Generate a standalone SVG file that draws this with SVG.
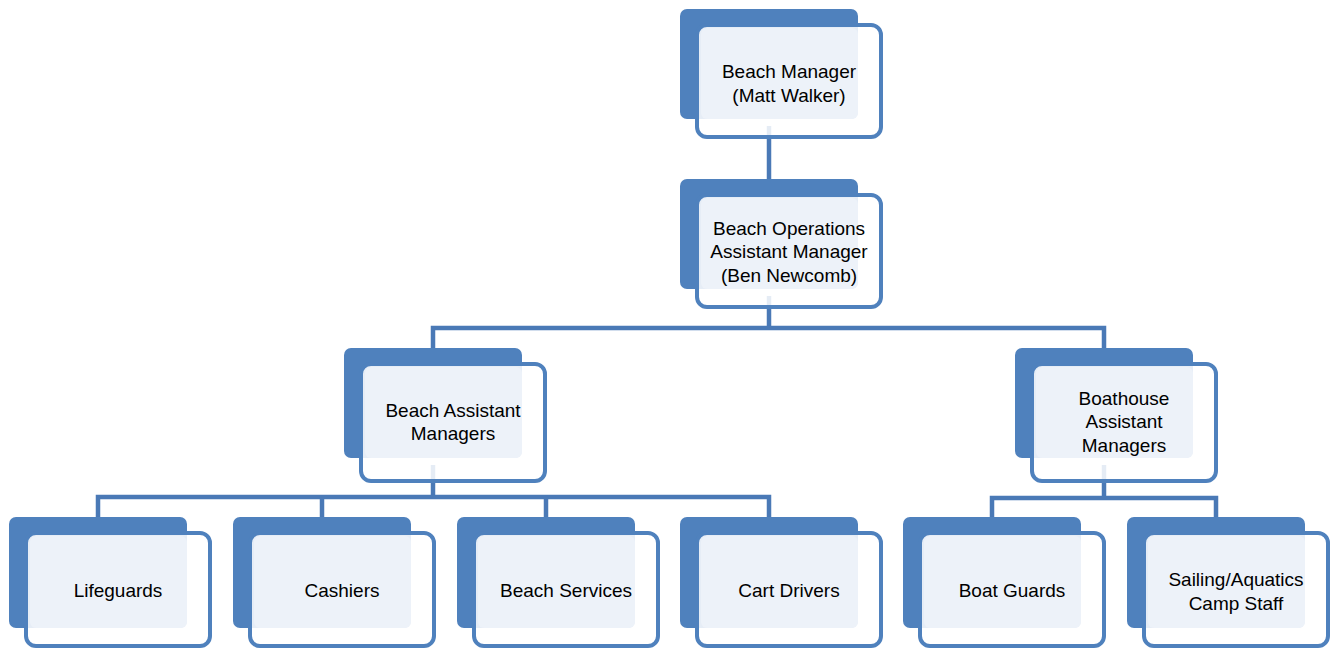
<svg xmlns="http://www.w3.org/2000/svg" width="1330" height="648" viewBox="0 0 1330 648">
<style>
.back{fill:#4F81BD}
.frame{fill:#FFFFFF;fill-opacity:0.86;stroke:#4F81BD;stroke-width:4}
.face{fill:#EDF2F9}
.lbl{font-family:"Liberation Sans",Arial,sans-serif;font-size:19px;fill:#000;text-anchor:middle}
.conn{stroke:#4A79B6;stroke-width:4.5;fill:none;stroke-linejoin:miter}
</style>
<rect width="1330" height="648" fill="#FFFFFF"/>
<g id="connectors">
<path class="conn" d="M769,126 V179"/>
<path class="conn" d="M769,296 V328"/>
<path class="conn" d="M433,348 V328 H1104 V348"/>
<path class="conn" d="M433,465 V497"/>
<path class="conn" d="M98,517 V497 H769 V517"/>
<path class="conn" d="M322,497 V517"/>
<path class="conn" d="M546,497 V517"/>
<path class="conn" d="M1104,465 V498"/>
<path class="conn" d="M992,517 V498 H1216 V517"/>
</g>
<g id="node-beach-manager">
<rect class="back" x="680" y="9" width="178" height="110" rx="7"/>
<rect class="frame" x="697" y="25" width="184" height="112" rx="10"/>
<rect class="face" x="701" y="28" width="157" height="91" rx="6"/>
<text class="lbl" x="789" y="78">Beach Manager</text>
<text class="lbl" x="789" y="102">(Matt Walker)</text>
</g>
<g id="node-beach-operations">
<rect class="back" x="680" y="179" width="178" height="110" rx="7"/>
<rect class="frame" x="697" y="195" width="184" height="112" rx="10"/>
<rect class="face" x="701" y="198" width="157" height="91" rx="6"/>
<text class="lbl" x="789" y="235">Beach Operations</text>
<text class="lbl" x="789" y="258">Assistant Manager</text>
<text class="lbl" x="789" y="282">(Ben Newcomb)</text>
</g>
<g id="node-beach-assistant">
<rect class="back" x="344" y="348" width="178" height="110" rx="7"/>
<rect class="frame" x="361" y="364" width="184" height="117" rx="10"/>
<rect class="face" x="365" y="367" width="157" height="91" rx="6"/>
<text class="lbl" x="453" y="417">Beach Assistant</text>
<text class="lbl" x="453" y="440">Managers</text>
</g>
<g id="node-boathouse-assistant">
<rect class="back" x="1015" y="348" width="178" height="110" rx="7"/>
<rect class="frame" x="1032" y="364" width="184" height="117" rx="10"/>
<rect class="face" x="1036" y="367" width="157" height="91" rx="6"/>
<text class="lbl" x="1124" y="405">Boathouse</text>
<text class="lbl" x="1124" y="428">Assistant</text>
<text class="lbl" x="1124" y="452">Managers</text>
</g>
<g id="node-lifeguards">
<rect class="back" x="9" y="517" width="178" height="111" rx="7"/>
<rect class="frame" x="26" y="533" width="184" height="113" rx="10"/>
<rect class="face" x="30" y="536" width="157" height="92" rx="6"/>
<text class="lbl" x="118" y="597">Lifeguards</text>
</g>
<g id="node-cashiers">
<rect class="back" x="233" y="517" width="178" height="111" rx="7"/>
<rect class="frame" x="250" y="533" width="184" height="113" rx="10"/>
<rect class="face" x="254" y="536" width="157" height="92" rx="6"/>
<text class="lbl" x="342" y="597">Cashiers</text>
</g>
<g id="node-beach-services">
<rect class="back" x="457" y="517" width="178" height="111" rx="7"/>
<rect class="frame" x="474" y="533" width="184" height="113" rx="10"/>
<rect class="face" x="478" y="536" width="157" height="92" rx="6"/>
<text class="lbl" x="566" y="597">Beach Services</text>
</g>
<g id="node-cart-drivers">
<rect class="back" x="680" y="517" width="178" height="111" rx="7"/>
<rect class="frame" x="697" y="533" width="184" height="113" rx="10"/>
<rect class="face" x="701" y="536" width="157" height="92" rx="6"/>
<text class="lbl" x="789" y="597">Cart Drivers</text>
</g>
<g id="node-boat-guards">
<rect class="back" x="903" y="517" width="178" height="111" rx="7"/>
<rect class="frame" x="920" y="533" width="184" height="113" rx="10"/>
<rect class="face" x="924" y="536" width="157" height="92" rx="6"/>
<text class="lbl" x="1012" y="597">Boat Guards</text>
</g>
<g id="node-sailing-camp">
<rect class="back" x="1127" y="517" width="178" height="111" rx="7"/>
<rect class="frame" x="1144" y="533" width="184" height="113" rx="10"/>
<rect class="face" x="1148" y="536" width="157" height="92" rx="6"/>
<text class="lbl" x="1236" y="586">Sailing/Aquatics</text>
<text class="lbl" x="1236" y="610">Camp Staff</text>
</g>
</svg>
